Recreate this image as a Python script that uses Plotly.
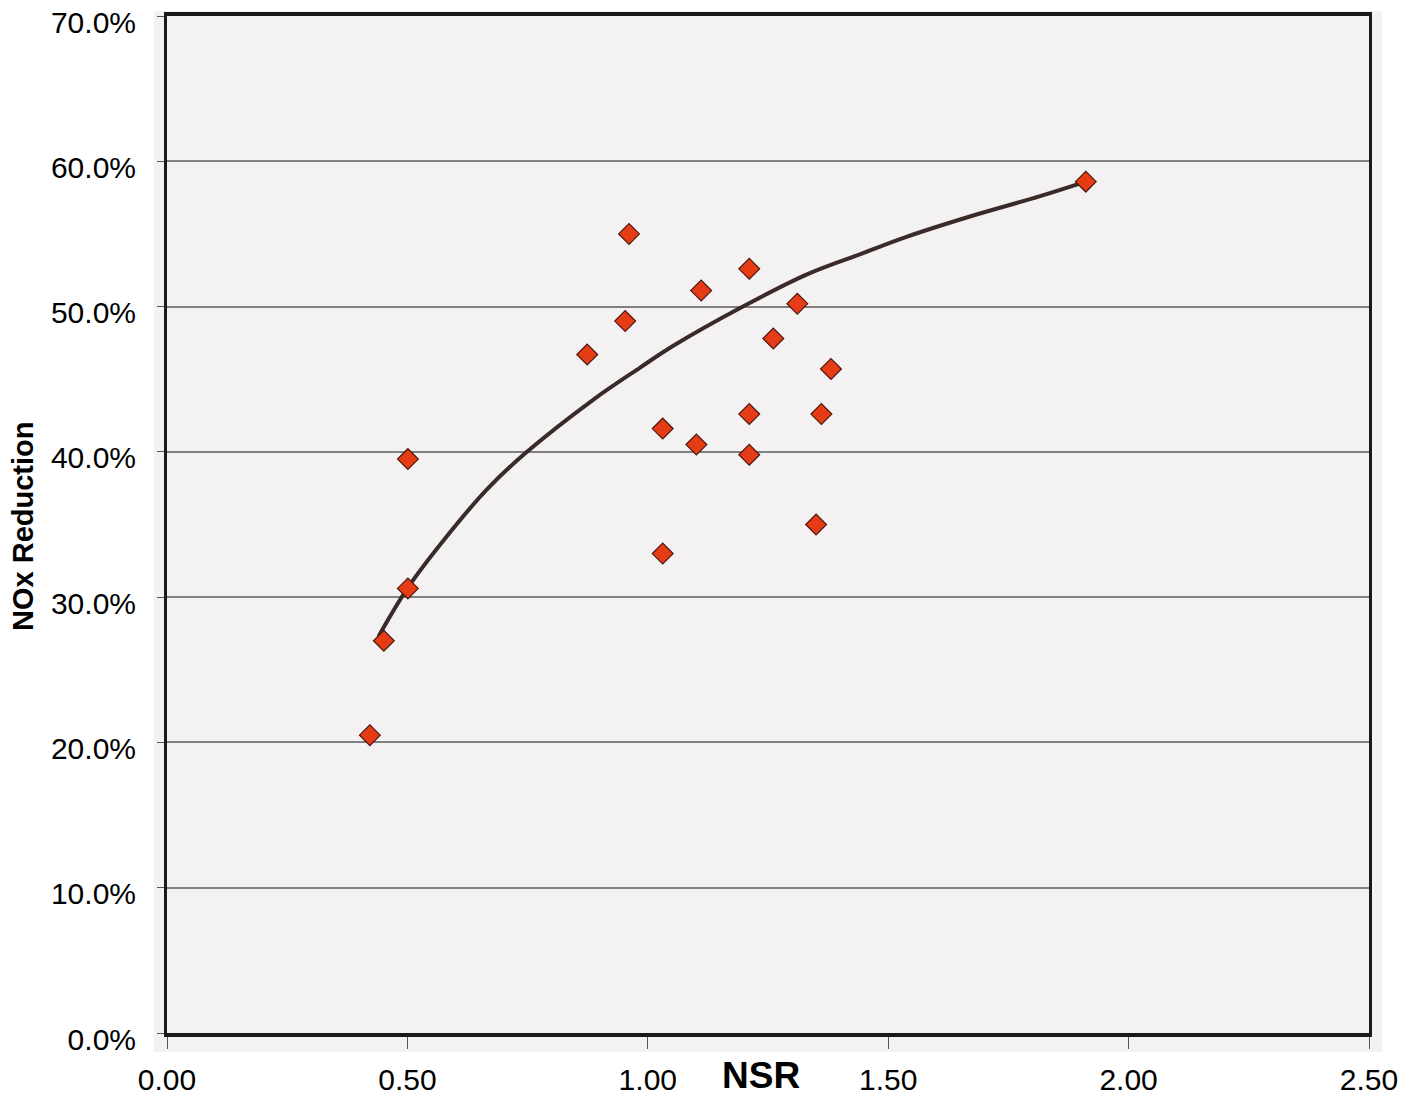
import plotly.graph_objects as go

# Measured NSR vs. NOx reduction (fraction)
nsr = [0.422, 0.451, 0.501, 0.501, 0.874, 0.953, 0.961, 1.031, 1.031, 1.101,
       1.111, 1.211, 1.211, 1.211, 1.261, 1.311, 1.350, 1.361, 1.381, 1.911]
nox_reduction = [0.205, 0.270, 0.306, 0.395, 0.467, 0.490, 0.550, 0.416, 0.330, 0.405,
                 0.511, 0.526, 0.426, 0.398, 0.478, 0.502, 0.350, 0.426, 0.457, 0.586]

# Trend curve through the data
trend_nsr = [0.440, 0.502, 0.575, 0.665, 0.745, 0.887, 0.984, 1.053, 1.192,
             1.330, 1.441, 1.538, 1.670, 1.816, 1.911]
trend_red = [0.273, 0.307, 0.339, 0.374, 0.399, 0.436, 0.458, 0.473, 0.499,
             0.522, 0.536, 0.548, 0.562, 0.576, 0.586]

x_ticks = [0.0, 0.5, 1.0, 1.5, 2.0, 2.5]
x_tick_text = ["0.00", "0.50", "1.00", "1.50", "2.00", "2.50"]
y_ticks = [0.0, 0.1, 0.2, 0.3, 0.4, 0.5, 0.6, 0.7]
y_tick_text = ["0.0%", "10.0%", "20.0%", "30.0%", "40.0%", "50.0%", "60.0%", "70.0%"]

FONT = "Liberation Sans, Arial, sans-serif"

fig = go.Figure()

fig.add_trace(go.Scatter(
    x=trend_nsr, y=trend_red, mode="lines",
    line=dict(color="#3a2b28", width=4, shape="spline", smoothing=1.0),
    hoverinfo="skip", showlegend=False,
))

fig.add_trace(go.Scatter(
    x=nsr, y=nox_reduction, mode="markers",
    marker=dict(symbol="diamond", size=16, color="#e63c16",
                line=dict(color="#4a1810", width=1.2)),
    showlegend=False,
))

L, R, T, B = 167, 53, 16, 69
W, H = 1422, 1102
pw, ph = W - L - R, H - T - B

# Light grey page tone slightly larger than the plotting area
fig.add_shape(type="rect", xref="paper", yref="paper",
              x0=-13 / pw, x1=1 + 13 / pw, y0=-19 / ph, y1=1 + 5 / ph,
              fillcolor="#f3f1f2", line=dict(width=0), layer="below")

fig.update_layout(
    width=W, height=H,
    margin=dict(l=L, r=R, t=T, b=B, autoexpand=False),
    paper_bgcolor="white",
    plot_bgcolor="#f4f2f3",
    font=dict(family=FONT, color="black"),
    xaxis=dict(
        range=[0, 2.5], tickvals=x_ticks, ticktext=x_tick_text,
        ticks="outside", ticklen=12, tickwidth=1, tickcolor="#555",
        tickfont=dict(size=30, family=FONT), ticklabelstandoff=5,
        showgrid=False, zeroline=False, automargin=False,
        ticklabeloverflow="allow",
        showline=True, linewidth=3.5, linecolor="#1a1a1a", mirror=True,
    ),
    yaxis=dict(
        range=[0, 0.7], tickvals=y_ticks, ticktext=y_tick_text,
        ticks="outside", ticklen=7, tickwidth=1, tickcolor="#555",
        tickfont=dict(size=30, family=FONT), ticklabelstandoff=15,
        ticklabelshift=6, automargin=False, ticklabeloverflow="allow",
        showgrid=True, gridcolor="#808080", gridwidth=1.5, zeroline=False,
        showline=True, linewidth=3, linecolor="#1a1a1a", mirror=True,
    ),
    annotations=[
        dict(text="<b>NSR</b>", xref="paper", yref="paper",
             x=(761 - L) / pw, y=-(1075 - (H - B)) / ph,
             xanchor="center", yanchor="middle", showarrow=False,
             font=dict(size=37, family=FONT)),
        dict(text="<b>NOx Reduction</b>", xref="paper", yref="paper",
             x=-(L - 23) / pw, y=1 - (527 - T) / ph,
             xanchor="center", yanchor="middle", showarrow=False,
             textangle=-90, font=dict(size=29, family=FONT)),
    ],
)

fig.write_html("out.html")
